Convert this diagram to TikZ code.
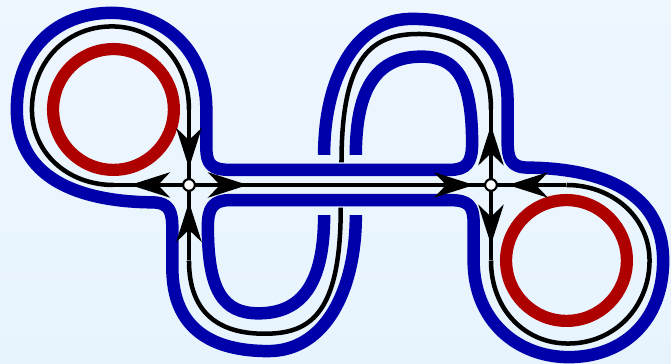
\documentclass[tikz,border=0pt]{standalone}
\usetikzlibrary{arrows.meta,decorations.markings}
\definecolor{bandblue}{RGB}{0,0,170}
\definecolor{orbitred}{RGB}{175,0,0}
\definecolor{bgtop}{RGB}{238,246,254}
\definecolor{bgbot}{RGB}{231,244,254}
\tikzset{
  band/.style={draw=bandblue,line width=4.7pt,line join=round},
  flow/.style={draw=black,line width=1.7pt},
  orbit/.style={draw=orbitred,line width=4.6pt},
  saddle/.style={circle,draw=black,fill=white,line width=0.8pt,minimum size=4.4pt,inner sep=0pt},
  midarrow/.style={postaction={decorate,decoration={markings,mark=at position #1 with {\arrow{Stealth[length=15pt,width=9.5pt,inset=4.5pt]}}}}}
}
\begin{document}
\begin{tikzpicture}
\useasboundingbox (-4.503,-2.371) rectangle (4.384,2.450);
\shade[top color=bgtop,bottom color=bgbot] (-4.503,-2.371) rectangle (4.384,2.450);

% blue band boundaries (two point-symmetric copies)
\draw[band] (0.21,0.4) .. controls (0.21,1.3) and (0.5,1.7) .. (1.08,1.7)
  .. controls (1.55,1.7) and (1.75,1.4) .. (1.75,0.55)
  .. controls (1.75,0.3) and (1.68,0.2) .. (1.45,0.2) -- (-1.45,0.2)
  .. controls (-1.7,0.2) and (-1.77,0.27) .. (-1.77,0.5) -- (-1.77,1.0)
  .. controls (-1.77,1.8) and (-2.35,2.28) .. (-3.03,2.28)
  .. controls (-3.75,2.28) and (-4.28,1.8) .. (-4.28,1.0)
  .. controls (-4.28,0.0) and (-3.3,-0.22) .. (-2.5,-0.23)
  .. controls (-2.25,-0.23) and (-2.22,-0.35) .. (-2.22,-0.6) -- (-2.22,-1.1)
  .. controls (-2.22,-1.9) and (-1.7,-2.2) .. (-0.95,-2.2)
  .. controls (-0.2,-2.2) and (0.21,-1.4) .. (0.21,-0.4);
\begin{scope}[rotate=180]
\draw[band] (0.21,0.4) .. controls (0.21,1.3) and (0.5,1.7) .. (1.08,1.7)
  .. controls (1.55,1.7) and (1.75,1.4) .. (1.75,0.55)
  .. controls (1.75,0.3) and (1.68,0.2) .. (1.45,0.2) -- (-1.45,0.2)
  .. controls (-1.7,0.2) and (-1.77,0.27) .. (-1.77,0.5) -- (-1.77,1.0)
  .. controls (-1.77,1.8) and (-2.35,2.28) .. (-3.03,2.28)
  .. controls (-3.75,2.28) and (-4.28,1.8) .. (-4.28,1.0)
  .. controls (-4.28,0.0) and (-3.3,-0.22) .. (-2.5,-0.23)
  .. controls (-2.25,-0.23) and (-2.22,-0.35) .. (-2.22,-0.6) -- (-2.22,-1.1)
  .. controls (-2.22,-1.9) and (-1.7,-2.2) .. (-0.95,-2.2)
  .. controls (-0.2,-2.2) and (0.21,-1.4) .. (0.21,-0.4);
\end{scope}

% periodic orbits
\draw[orbit] (-3,1) circle[radius=0.8];
\draw[orbit] (3,-1) circle[radius=0.8];

% points
\coordinate (L) at (-2,0);
\coordinate (R) at (2,0);
\coordinate (Lw) at (-3,0);
\coordinate (Le) at (-1,0);
\coordinate (Ln) at (-2,1);
\coordinate (Ls) at (-2,-1);
\coordinate (Rw) at (1,0);
\coordinate (Re) at (3,0);
\coordinate (Rn) at (2,1);
\coordinate (Rs) at (2,-1);
\coordinate (Uend) at (0.01,-0.3);
\coordinate (Aend) at (0.02,0.3);

% black orbits
\draw[flow] (Ln) .. controls (-2,1.65) and (-2.45,2.1) .. (-3.02,2.1)
  .. controls (-3.65,2.1) and (-4.08,1.6) .. (-4.08,1.0)
  .. controls (-4.08,0.42) and (-3.6,0) .. (Lw);
\draw[flow] (Rs) .. controls (2,-1.65) and (2.45,-2.1) .. (3.02,-2.1)
  .. controls (3.65,-2.1) and (4.1,-1.6) .. (4.1,-1.0)
  .. controls (4.1,-0.42) and (3.6,0) .. (Re);
\draw[flow] (Ls) .. controls (-2,-1.7) and (-1.6,-1.97) .. (-1,-1.97)
  .. controls (-0.4,-1.97) and (0.01,-1.72) .. (Uend);
\draw[flow] (Rn) .. controls (2,1.7) and (1.6,2.0) .. (1.05,2.0)
  .. controls (0.45,2.0) and (0.02,1.75) .. (Aend);

\draw[flow] (Le) -- (Rw);
\draw[flow,midarrow=0.78] (L) -- (Lw);
\draw[flow,midarrow=0.78] (L) -- (Le);
\draw[flow,midarrow=0.775] (Ln) -- (L);
\draw[flow,midarrow=0.775] (Ls) -- (L);
\draw[flow,midarrow=0.775] (Rw) -- (R);
\draw[flow,midarrow=0.775] (Re) -- (R);
\draw[flow,midarrow=0.79] (R) -- (Rn);
\draw[flow,midarrow=0.79] (R) -- (Rs);

\node[saddle] (saddleL) at (L) {};
\node[saddle] (saddleR) at (R) {};
\end{tikzpicture}
\end{document}
